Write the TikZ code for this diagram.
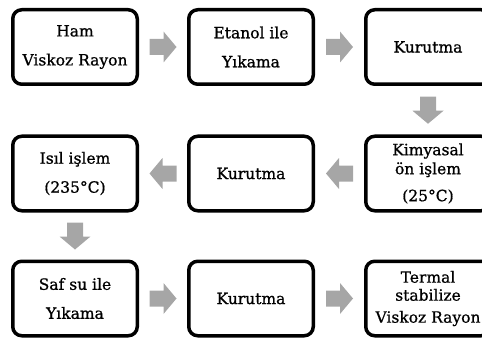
\documentclass[tikz,border=0pt]{standalone}
\usepackage{fontspec}
\setmainfont{DejaVu Serif}[FakeBold=0.9]
\usetikzlibrary{calc}
\definecolor{arrowgray}{HTML}{A6A6A6}
\begin{document}
\begin{tikzpicture}[x=1pt,y=1pt,
  box/.style={draw=black, line width=3.5pt, rounded corners=9pt,
    minimum width=124.5pt, minimum height=74.5pt, align=center,
    inner sep=0pt, font=\fontsize{15.5}{29}\selectfont},
  pics/blockarrow/.style={code={\fill[arrowgray] (-13.5,-8) -- (0.5,-8) -- (0.5,-15.5)
    -- (13.5,0) -- (0.5,15.5) -- (0.5,8) -- (-13.5,8) -- cycle;}}]
\useasboundingbox (0,0) rectangle (482,338);
% row 1
\node[box] (b1) at (75,291) {Ham\\Viskoz Rayon};
\node[box] (b2) at (251,291) {Etanol ile\\Yıkama};
\node[box] (b3) at (428,291) {Kurutma};
% row 2
\node[box] (b6) at (75,164.5) {Isıl işlem\\(235°C)};
\node[box] (b5) at (251,164.5) {Kurutma};
\node[box, font=\fontsize{15.5}{19}\selectfont] (b4) at (428,164.5) {Kimyasal\\ön işlem\\[8pt](25°C)};
% row 3
\node[box] (b7) at (75,39.5) {Saf su ile\\Yıkama};
\node[box] (b8) at (251,39.5) {Kurutma};
\node[box, font=\fontsize{15.5}{18}\selectfont] (b9) at (428,39.5) {Termal\\stabilize\\[4pt]Viskoz Rayon};
% arrows
\pic at ($(b1.east)!0.5!(b2.west)$) {blockarrow};
\pic at ($(b2.east)!0.5!(b3.west)$) {blockarrow};
\pic[rotate=-90] at ($(b3.south)!0.5!(b4.north)$) {blockarrow};
\pic[rotate=180] at ($(b4.west)!0.5!(b5.east)$) {blockarrow};
\pic[rotate=180] at ($(b5.west)!0.5!(b6.east)$) {blockarrow};
\pic[rotate=-90] at ($(b6.south)!0.5!(b7.north)$) {blockarrow};
\pic at ($(b7.east)!0.5!(b8.west)$) {blockarrow};
\pic at ($(b8.east)!0.5!(b9.west)$) {blockarrow};
\end{tikzpicture}
\end{document}
